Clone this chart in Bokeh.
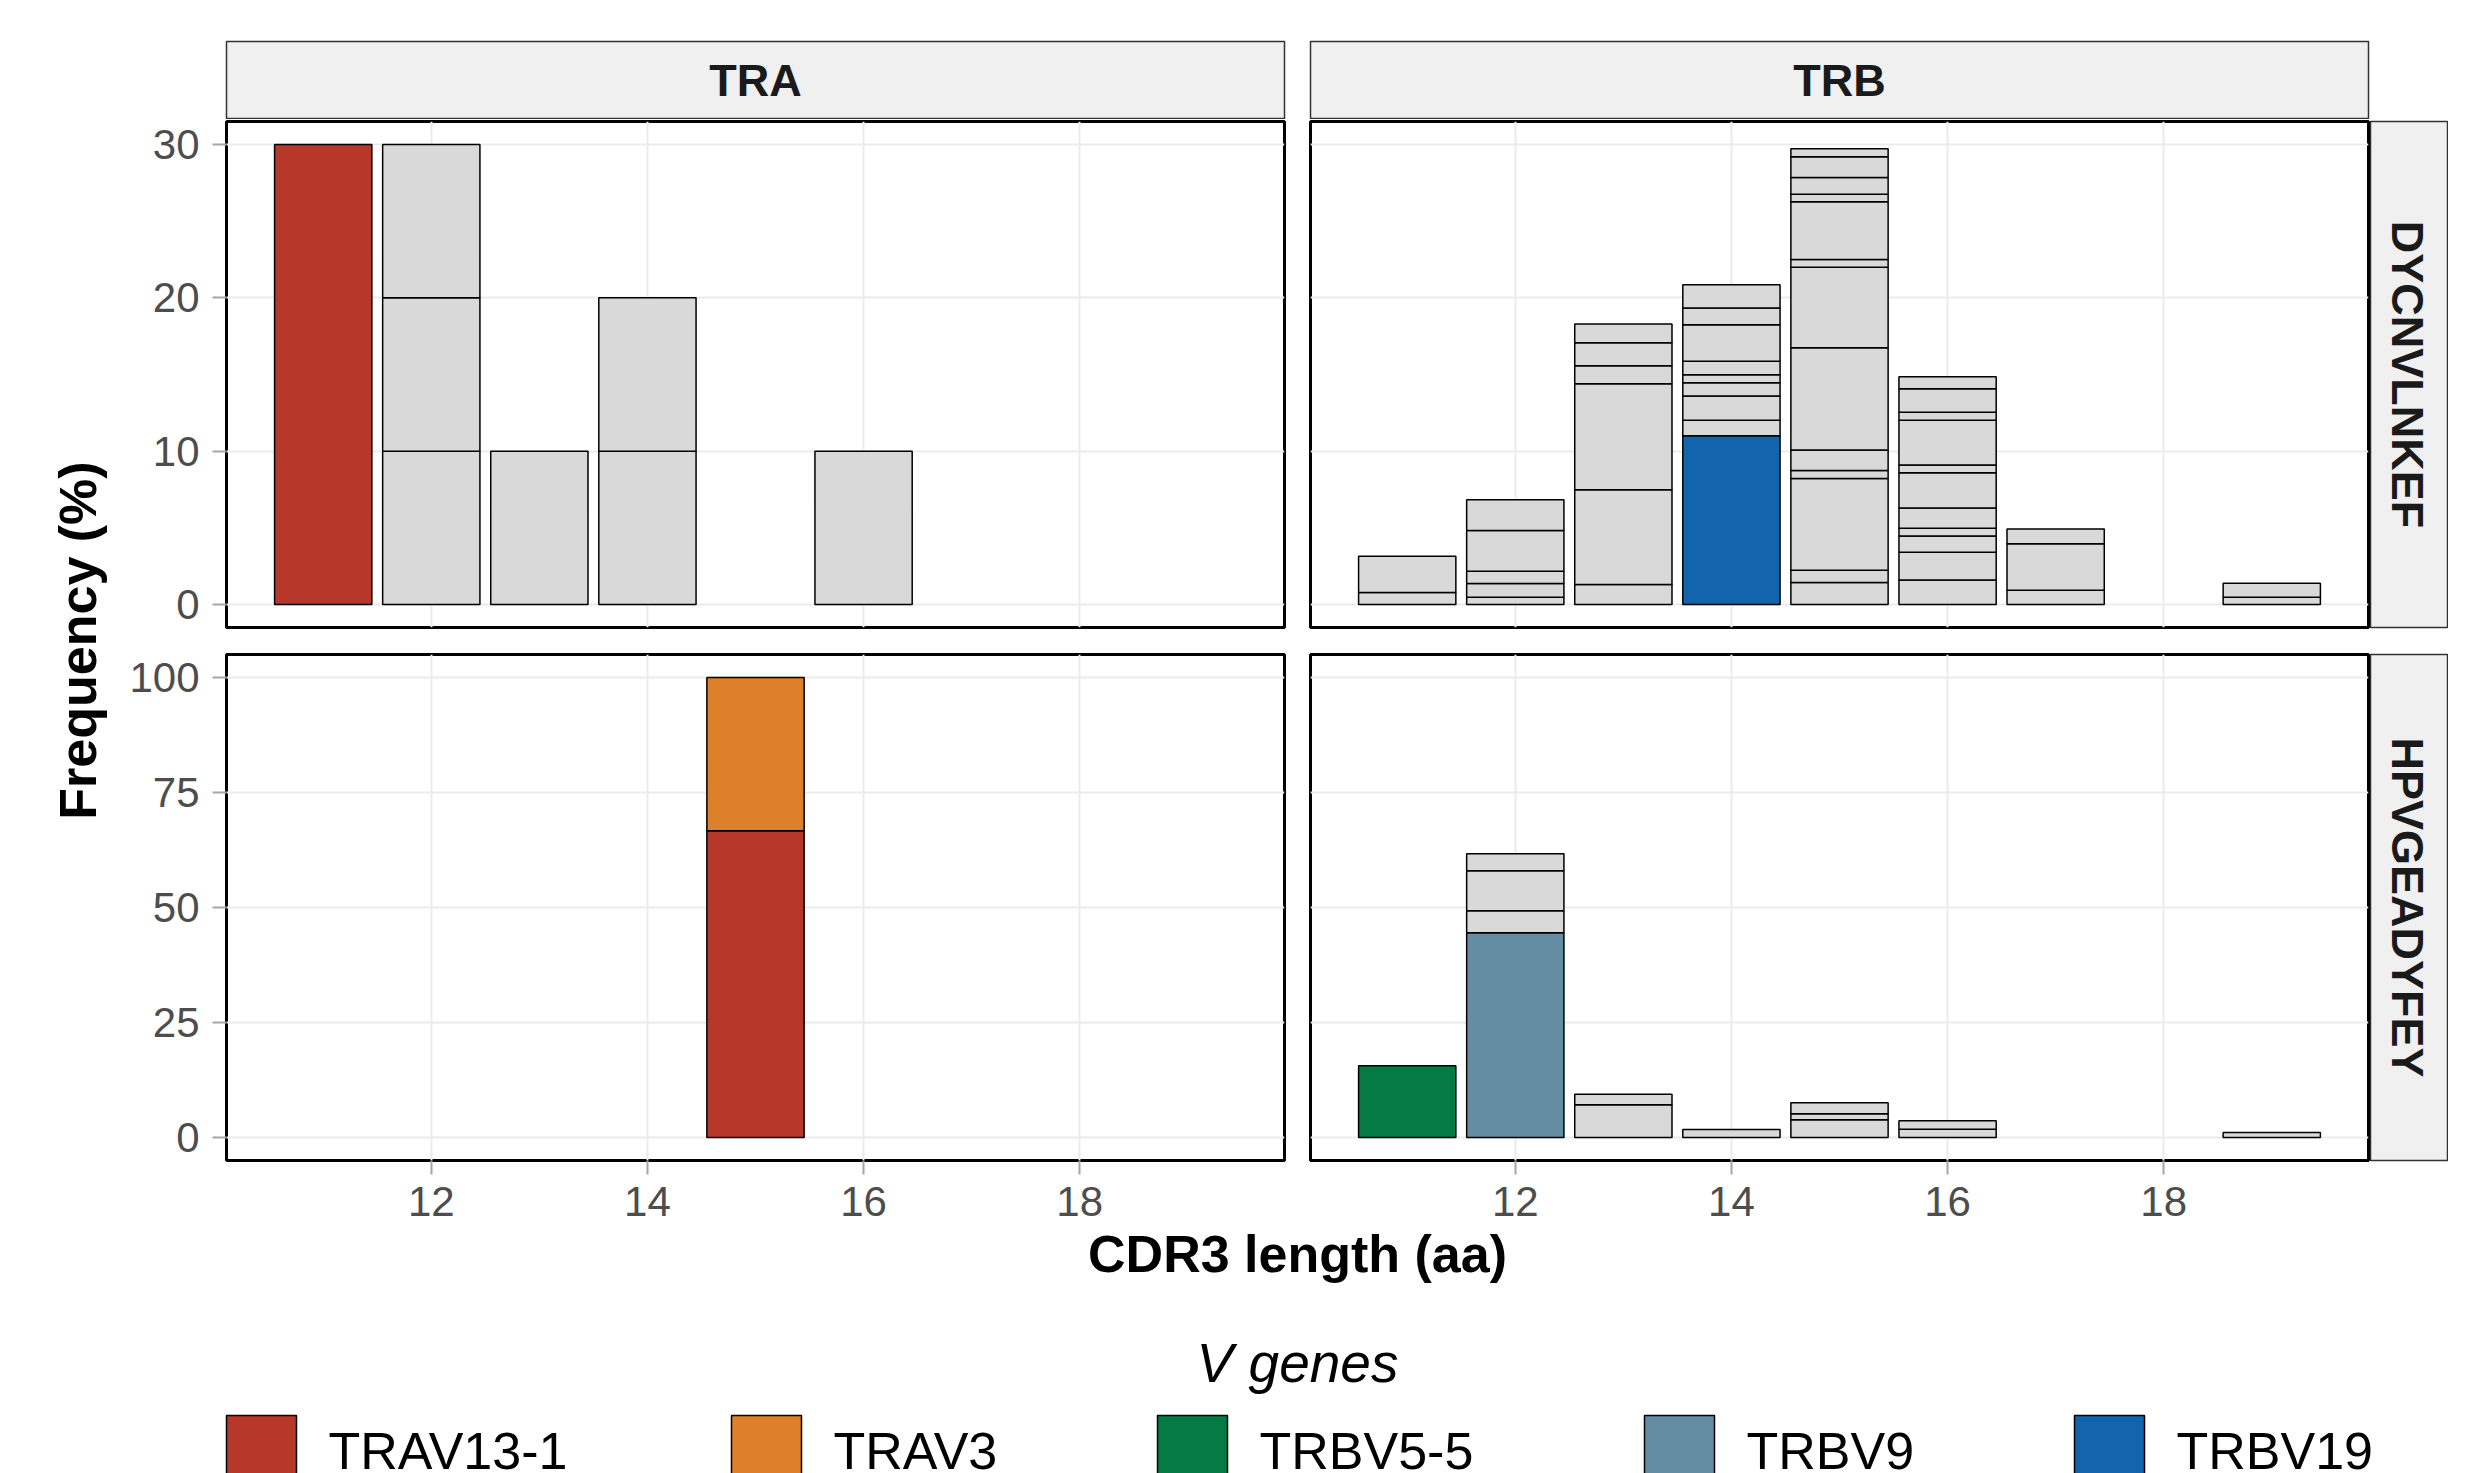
import math
from bokeh.plotting import figure
from bokeh.layouts import row, column
from bokeh.models import Range1d, FixedTicker, ColumnDataSource, Grid
from bokeh.core.properties import value
from bokeh.embed import file_html
from bokeh.resources import INLINE

FONT = "Liberation Sans"

# ---------------- data ----------------
genes = ["TRAV13-1", "TRAV3", "TRBV5-5", "TRBV9", "TRBV19"]
gene_colors = ["#B7382A", "#DE7F29", "#067A44", "#648CA3", "#1264AD"]
other_color = "#D9D9D9"
chains = ["TRA", "TRB"]
epitopes = ["DYCNVLNKEF", "HPVGEADYFEY"]
x_ticks = [12, 14, 16, 18]
y_ticks_top = [0, 10, 20, 30]
y_ticks_bottom = [0, 25, 50, 75, 100]
x_title = "CDR3 length (aa)"
y_title = "Frequency (%)"
legend_title = "V genes"

# TRA / DYCNVLNKEF
tra_dycn_len = [11, 12, 12, 12, 13, 14, 14, 16]
tra_dycn_gene = ["TRAV13-1", "other", "other", "other", "other", "other", "other", "other"]
tra_dycn_freq = [30, 10, 10, 10, 10, 10, 10, 10]

# TRB / DYCNVLNKEF
trb_dycn_len = [11, 11,
                12, 12, 12, 12, 12,
                13, 13, 13, 13, 13, 13,
                14, 14, 14, 14, 14, 14, 14, 14, 14,
                15, 15, 15, 15, 15, 15, 15, 15, 15, 15, 15, 15, 15,
                16, 16, 16, 16, 16, 16, 16, 16, 16, 16, 16,
                17, 17, 17,
                19, 19]
trb_dycn_gene = (["other"] * 2 + ["other"] * 5 + ["other"] * 6 +
                 ["TRBV19"] + ["other"] * 8 + ["other"] * 13 + ["other"] * 11 +
                 ["other"] * 3 + ["other"] * 2)
trb_dycn_freq = [0.78, 2.37,
                 0.48, 0.89, 0.80, 2.66, 2.00,
                 1.30, 6.18, 6.91, 1.18, 1.50, 1.23,
                 11.00, 1.02, 1.57, 0.87, 0.52, 0.89, 2.37, 1.09, 1.52,
                 1.43, 0.81, 5.98, 0.52, 1.33, 6.67, 5.26, 0.50, 3.76, 0.50, 1.09, 1.35, 0.52,
                 1.59, 1.82, 1.05, 0.52, 1.32, 2.29, 0.50, 2.93, 0.52, 1.53, 0.78,
                 0.93, 3.03, 0.97,
                 0.48, 0.91]

# TRA / HPVGEADYFEY
tra_hpvg_len = [15, 15]
tra_hpvg_gene = ["TRAV13-1", "TRAV3"]
tra_hpvg_freq = [66.7, 33.3]

# TRB / HPVGEADYFEY
trb_hpvg_len = [11, 12, 12, 12, 12, 13, 13, 14, 15, 15, 15, 16, 16, 19]
trb_hpvg_gene = ["TRBV5-5", "TRBV9", "other", "other", "other", "other", "other",
                 "other", "other", "other", "other", "other", "other", "other"]
trb_hpvg_freq = [15.6, 44.5, 4.8, 8.7, 3.7, 7.1, 2.3, 1.74, 3.84, 1.30, 2.40, 1.81, 1.81, 1.09]

# ---------------- helpers ----------------
cmap = dict(zip(genes, gene_colors))
BASE_SHIFT = 0.37  # measured offset of the rendered baseline, in em


def stacked(lens, gene_list, freqs):
    acc = {}
    bottoms, tops, colors = [], [], []
    for L, g, f in zip(lens, gene_list, freqs):
        b = acc.get(L, 0.0)
        bottoms.append(b)
        tops.append(b + f)
        acc[L] = b + f
        colors.append(cmap.get(g, other_color))
    return ColumnDataSource(dict(x=lens, bottom=bottoms, top=tops, color=colors, gene=gene_list))


XR = (10.105, 19.895)
FRAME_W = 1058
FRAME_H = 506


def make_panel(width, height, mbl, mbr, mbt, mbb, yr, yticks, show_x, show_y, src):
    p = figure(width=width, height=height, x_range=Range1d(*XR), y_range=Range1d(*yr),
               x_axis_location="below" if show_x else None,
               y_axis_location="left" if show_y else None,
               min_border_left=mbl, min_border_right=mbr, min_border_top=mbt, min_border_bottom=mbb,
               output_backend="svg", toolbar_location=None)
    p.background_fill_color = "white"
    p.border_fill_color = "white"
    p.outline_line_color = "black"
    p.outline_line_width = 3
    p.grid.visible = False
    gx = Grid(dimension=0, ticker=FixedTicker(ticks=x_ticks), grid_line_color="#EBEBEB", grid_line_width=2)
    gy = Grid(dimension=1, ticker=FixedTicker(ticks=yticks), grid_line_color="#EBEBEB", grid_line_width=2)
    p.add_layout(gx, "center")
    p.add_layout(gy, "center")
    p.vbar(x="x", width=0.9, bottom="bottom", top="top", fill_color="color",
           line_color="black", line_width=1.5, source=src)
    for ax in p.axis:
        ax.major_label_text_font = FONT
        ax.major_label_text_font_size = "42px"
        ax.major_label_text_color = "#4D4D4D"
        ax.axis_line_color = None
        ax.major_tick_line_color = "#A6A6A6"
        ax.major_tick_line_width = 2
        ax.major_tick_in = 0
        ax.major_tick_out = 14
        ax.minor_tick_line_color = None
    if show_x:
        p.xaxis.ticker = FixedTicker(ticks=x_ticks)
        p.xaxis.major_label_standoff = 12
    if show_y:
        p.yaxis.ticker = FixedTicker(ticks=yticks)
        p.yaxis.major_label_standoff = 13
    return p


def blank_fig(width, height, xr, yr, mbl=0, mbr=0, mbt=0, mbb=0):
    f = figure(width=width, height=height, x_range=Range1d(*xr), y_range=Range1d(*yr),
               x_axis_location=None, y_axis_location=None,
               min_border_left=mbl, min_border_right=mbr, min_border_top=mbt, min_border_bottom=mbb,
               output_backend="svg", toolbar_location=None)
    f.grid.visible = False
    f.outline_line_color = None
    f.background_fill_color = "white"
    f.border_fill_color = "white"
    return f


STRIP_FS = 45


def hstrip(width, mbl, mbr, label):
    s = blank_fig(width, 119, (0, FRAME_W), (0, 78), mbl=mbl, mbr=mbr, mbt=41, mbb=0)
    s.background_fill_color = "#F0F0F0"
    s.outline_line_color = "#333333"
    s.outline_line_width = 1.5
    s.text(x=[FRAME_W / 2], y=[22 + BASE_SHIFT * STRIP_FS], text=[label], text_align="center",
           text_baseline="alphabetic", text_font=value(FONT), text_font_style="bold",
           text_font_size=f"{STRIP_FS}px", text_color="#1A1A1A")
    return s


def vstrip(height, mbt, mbb, label):
    s = blank_fig(78, height, (0, 78), (0, FRAME_H), mbt=mbt, mbb=mbb)
    s.background_fill_color = "#F0F0F0"
    s.outline_line_color = "#333333"
    s.outline_line_width = 1.5
    s.text(x=[20 + BASE_SHIFT * STRIP_FS], y=[FRAME_H / 2], text=[label], angle=-math.pi / 2,
           text_align="center", text_baseline="alphabetic",
           text_font=value(FONT), text_font_style="bold", text_font_size=f"{STRIP_FS}px",
           text_color="#1A1A1A")
    return s


# ---------------- panels ----------------
STRIP_H = 119    # 41 + 78
TOP_H = 533      # 2 + 506 + 25
BOT_H = 574      # 2 + 506 + 66
W_LEFT = 1167    # 106 + 1058 + 3
W_RIGHT = 1083   # 23 + 1058 + 2

p_tl = make_panel(W_LEFT, TOP_H, 106, 3, 2, 25, (-1.5, 31.5), y_ticks_top, False, True,
                  stacked(tra_dycn_len, tra_dycn_gene, tra_dycn_freq))
p_tr = make_panel(W_RIGHT, TOP_H, 23, 2, 2, 25, (-1.5, 31.5), y_ticks_top, False, False,
                  stacked(trb_dycn_len, trb_dycn_gene, trb_dycn_freq))
p_bl = make_panel(W_LEFT, BOT_H, 106, 3, 2, 66, (-5, 105), y_ticks_bottom, True, True,
                  stacked(tra_hpvg_len, tra_hpvg_gene, tra_hpvg_freq))
p_br = make_panel(W_RIGHT, BOT_H, 23, 2, 2, 66, (-5, 105), y_ticks_bottom, True, False,
                  stacked(trb_hpvg_len, trb_hpvg_gene, trb_hpvg_freq))

s_tra = hstrip(W_LEFT, 106, 3, chains[0])
s_trb = hstrip(W_RIGHT, 23, 2, chains[1])
v_top = vstrip(TOP_H, 2, 25, epitopes[0])
v_bot = vstrip(BOT_H, 2, 66, epitopes[1])

# y title
TITLE_FS = 52
YT_W = 120
YT_H = STRIP_H + TOP_H + BOT_H
yt = blank_fig(YT_W, YT_H, (0, YT_W), (0, YT_H))
yt.text(x=[97 - BASE_SHIFT * TITLE_FS], y=[YT_H - 640], text=[y_title], angle=math.pi / 2,
        text_align="center", text_baseline="alphabetic",
        text_font=value(FONT), text_font_style="bold", text_font_size=f"{TITLE_FS}px",
        text_color="black")

TOTAL_W = YT_W + W_LEFT + W_RIGHT + 78
CENTER_X = 1297

# x title (canvas spans y 1226 -> 1294)
XT_H = 68
XT_TOP = YT_H
xt = blank_fig(TOTAL_W, XT_H, (0, TOTAL_W), (0, XT_H))
xt.text(x=[CENTER_X], y=[XT_H - (1273 - XT_TOP) + BASE_SHIFT * TITLE_FS], text=[x_title],
        text_align="center", text_baseline="alphabetic", text_font=value(FONT),
        text_font_style="bold", text_font_size=f"{TITLE_FS}px", text_color="black")

# legend (canvas spans y 1294 -> 1473)
LG_H = 1473 - YT_H - XT_H
LG_TOP = YT_H + XT_H
LT_FS = 55
LL_FS = 52
lg = blank_fig(TOTAL_W, LG_H, (0, TOTAL_W), (0, LG_H))
lg.text(x=[CENTER_X], y=[LG_H - (1383 - LG_TOP) + BASE_SHIFT * LT_FS], text=[legend_title],
        text_align="center", text_baseline="alphabetic",
        text_font=value(FONT), text_font_style="italic", text_font_size=f"{LT_FS}px", text_color="black")
key_left = [226, 731, 1157, 1644, 2074]
key_src = ColumnDataSource(dict(
    x=[k + 35 for k in key_left],
    y=[LG_H - (1450 - LG_TOP)] * len(genes),
    lx=[k + 102 for k in key_left],
    ly=[LG_H - (1470 - LG_TOP) + BASE_SHIFT * LL_FS] * len(genes),
    color=gene_colors,
    label=genes,
))
lg.rect(x="x", y="y", width=70, height=70, width_units="screen", height_units="screen",
        fill_color="color", line_color="black", line_width=1.5, source=key_src)
lg.text(x="lx", y="ly", text="label", text_align="left", text_baseline="alphabetic",
        text_font=value(FONT), text_font_size=f"{LL_FS}px", text_color="black", source=key_src)

inner = column(row(s_tra, s_trb), row(p_tl, p_tr, v_top), row(p_bl, p_br, v_bot))
layout = column(row(yt, inner), xt, lg)

open("out.html", "w").write(file_html(layout, INLINE))
